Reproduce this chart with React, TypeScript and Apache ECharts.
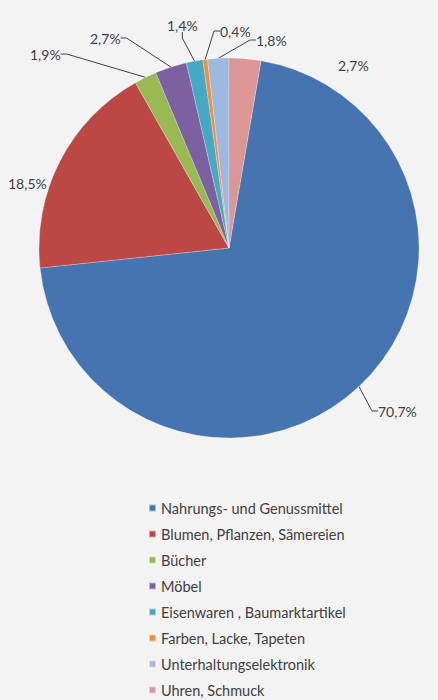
import React, { useEffect, useRef } from "react";
import * as echarts from "echarts";

const categories = [
  "Nahrungs- und Genussmittel",
  "Blumen, Pflanzen, Sämereien",
  "Bücher",
  "Möbel",
  "Eisenwaren , Baumarktartikel",
  "Farben, Lacke, Tapeten",
  "Unterhaltungselektronik",
  "Uhren, Schmuck",
];
const shares = [70.7, 18.5, 1.9, 2.7, 1.4, 0.4, 1.8, 2.7];
const colors = ["#4674B0", "#BC4845", "#98B954", "#7D60A0", "#46A9C3", "#F38E3E", "#9DB9E0", "#DB9695"];
// label anchor positions (left x, middle y) for each slice's percentage label
const labelSpots: number[][] = [
  [378, 411],
  [8, 183],
  [30, 54],
  [90, 38],
  [167, 25],
  [220, 31],
  [256, 40],
  [338, 65],
];
const showLeader = [true, false, true, true, true, true, true, false];

export default function App() {
  const ref = useRef<HTMLDivElement>(null);
  useEffect(() => {
    if (!ref.current) return;
    const chart = echarts.init(ref.current, undefined, { renderer: "svg" });
    const font = "Lato, 'Open Sans', sans-serif";
    chart.setOption({
      animation: false,
      backgroundColor: "#f3f3f3",
      color: colors,
      legend: {
        orient: "vertical",
        left: 148,
        top: 500,
        padding: 0,
        height: 200,
        itemWidth: 7,
        itemHeight: 7,
        itemGap: 10,
        icon: "rect",
        textStyle: { fontFamily: font, fontSize: 14.5, color: "#404040", lineHeight: 16 },
        data: categories,
      },
      series: [
        {
          type: "pie",
          center: [229, 248],
          radius: 190,
          startAngle: 80.3,
          clockwise: true,
          avoidLabelOverlap: false,
          itemStyle: { borderColor: "rgba(255,255,255,0.5)", borderWidth: 0.5 },
          label: {
            show: true,
            position: "outside",
            fontFamily: font,
            fontSize: 14,
            color: "#404040",
            formatter: (p: any) => p.value.toFixed(1).replace(".", ",") + "%",
          },
          labelLine: {
            show: true,
            length: 10,
            length2: 6,
            lineStyle: { color: "#404040", width: 1 },
          },
          labelLayout: (p: any) => {
            const s = labelSpots[p.dataIndex];
            return { x: s[0], y: s[1], align: "left", verticalAlign: "middle" };
          },
          data: categories.map((name, i) => ({
            name,
            value: shares[i],
            labelLine: { show: showLeader[i] },
          })),
        },
      ],
    });
    return () => chart.dispose();
  }, []);
  return (
    <div
      ref={ref}
      style={{ position: "fixed", left: 0, top: 0, width: 438, height: 700 }}
    />
  );
}
